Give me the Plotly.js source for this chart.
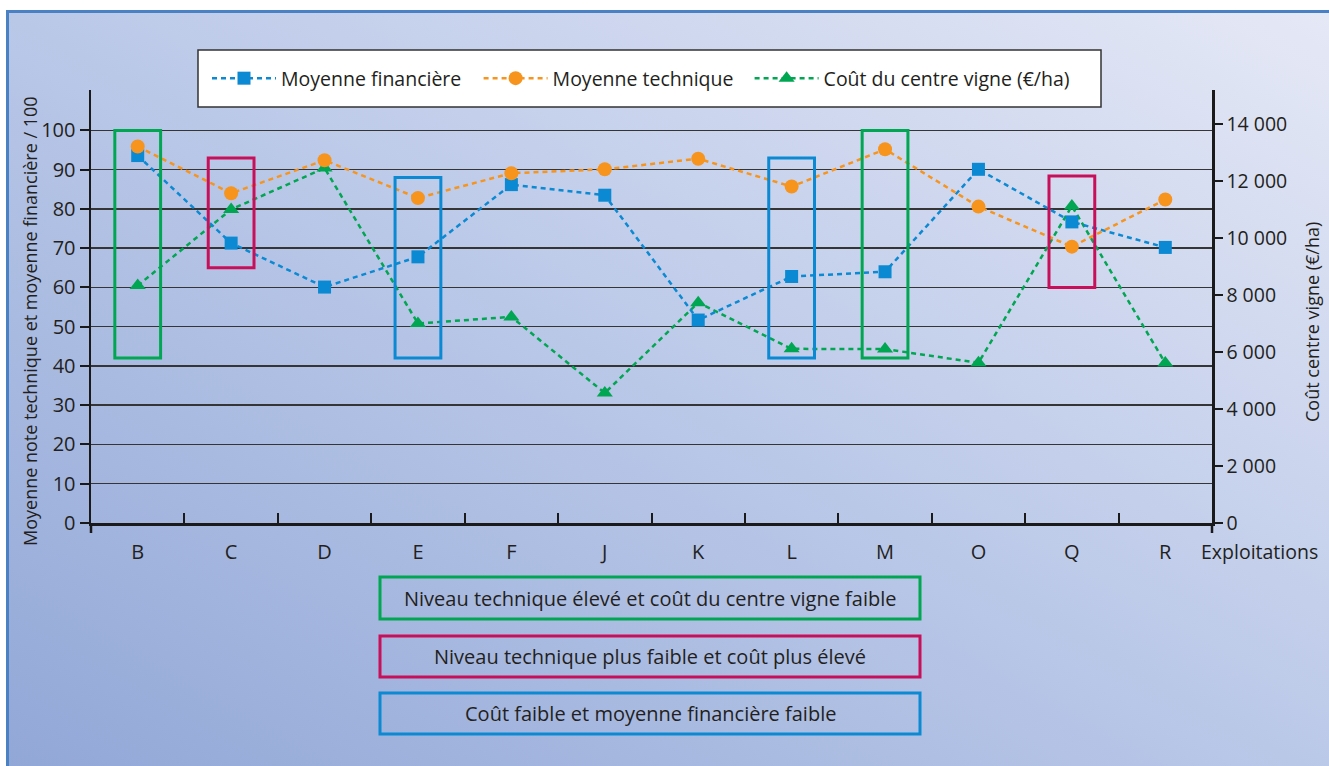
<!DOCTYPE html>
<html>
<head>
<meta charset="utf-8">
<script src="https://cdn.plot.ly/plotly-3.0.1.min.js"></script>
<style>
  html, body { margin: 0; padding: 0; background: #ffffff; width: 1329px; height: 766px; overflow: hidden; }
  #frame { position: absolute; left: 6px; top: 10px; width: 1340px; height: 780px;
    border-left: 3px solid #4a80c4; border-top: 3px solid #4a80c4;
    background: linear-gradient(to top right, #90a6d6 0%, #bac8e8 50%, #e6e9f6 100%); }
  #chart { position: absolute; left: 0; top: 0; width: 1329px; height: 766px; }
</style>
</head>
<body>
<div id="frame"></div>
<div id="chart"></div>
<script>
// ---- Data ----
const categories = ['B', 'C', 'D', 'E', 'F', 'J', 'K', 'L', 'M', 'O', 'Q', 'R'];
const moyenneFinanciere = [93.6, 71.3, 60.1, 67.8, 86.2, 83.5, 51.7, 62.8, 64.0, 90.1, 76.7, 70.2];
const moyenneTechnique  = [95.9, 84.0, 92.4, 82.8, 89.1, 90.1, 92.8, 85.7, 95.2, 80.6, 70.4, 82.4];
const coutCentreVigne   = [8330, 11000, 12450, 7000, 7230, 4560, 7730, 6110, 6100, 5620, 11120, 5610];

const seriesNames = ['Moyenne financière', 'Moyenne technique', 'Coût du centre vigne (€/ha)'];

const leftTickVals = [0, 10, 20, 30, 40, 50, 60, 70, 80, 90, 100];
const rightTickVals = [0, 2000, 4000, 6000, 8000, 10000, 12000, 14000];

// highlighted groups (category, top, bottom on the /100 scale, group)
const boxCats   = ['B', 'C', 'E', 'L', 'M', 'Q'];
const boxTop    = [100, 93, 88, 93, 100, 88.4];
const boxBottom = [42, 65, 42, 42, 42, 60];
const boxGroup  = [0, 1, 2, 2, 0, 1];

const groupLabels = [
  'Niveau technique élevé et coût du centre vigne faible',
  'Niveau technique plus faible et coût plus élevé',
  'Coût faible et moyenne financière faible'
];

// ---- Styling ----
const COL_BLUE = '#0b89d2';
const COL_ORANGE = '#f7941d';
const COL_GREEN = '#00a651';
const COL_CRIMSON = '#c8105a';
const groupColors = [COL_GREEN, COL_CRIMSON, COL_BLUE];
const FONT = 'Open Sans, Noto Sans, Liberation Sans, sans-serif';
const TXT = '#231f20';

// plot area in px
const W = 1329, H = 766;
const L = 91, R = 117, T = 90, B = 243;
const pw = W - L - R, ph = H - T - B;
const px2x = p => (p - L) / pw;
const px2y = p => (H - B - p) / ph;

const traces = [
  {
    name: seriesNames[2], x: categories, y: coutCentreVigne, xaxis: 'x', yaxis: 'y',
    type: 'scatter', mode: 'lines+markers', legend: 'legend3',
    line: { color: COL_GREEN, width: 2.5, dash: '5px,4px' },
    marker: { symbol: 'triangle-up', size: 14, color: COL_GREEN }
  },
  {
    name: seriesNames[0], x: categories, y: moyenneFinanciere, xaxis: 'x', yaxis: 'y2',
    type: 'scatter', mode: 'lines+markers', legend: 'legend',
    line: { color: COL_BLUE, width: 2.5, dash: '5px,4px' },
    marker: { symbol: 'square', size: 13, color: COL_BLUE }
  },
  {
    name: seriesNames[1], x: categories, y: moyenneTechnique, xaxis: 'x', yaxis: 'y2',
    type: 'scatter', mode: 'lines+markers', legend: 'legend2',
    line: { color: COL_ORANGE, width: 2.5, dash: '5px,4px' },
    marker: { symbol: 'circle', size: 14, color: COL_ORANGE }
  }
];

const shapes = [];
// legend frame
shapes.push({ type: 'rect', xref: 'paper', yref: 'paper', layer: 'below',
  x0: px2x(198), x1: px2x(1101), y0: px2y(107), y1: px2y(50),
  fillcolor: '#ffffff', line: { color: '#333333', width: 1.5 } });
// small extensions of the vertical axes below the category axis
[L, L + pw].forEach(p => {
  shapes.push({ type: 'line', xref: 'paper', yref: 'paper', layer: 'above',
    x0: px2x(p), x1: px2x(p), y0: px2y(523), y1: px2y(533),
    line: { color: '#1a1a1a', width: 2.5 } });
});
// highlight boxes
boxCats.forEach((c, i) => {
  const idx = categories.indexOf(c);
  shapes.push({ type: 'rect', xref: 'x', yref: 'y2', layer: 'above',
    x0: idx - 0.245, x1: idx + 0.245, y0: boxBottom[i], y1: boxTop[i],
    line: { color: groupColors[boxGroup[i]], width: 3 }, fillcolor: 'rgba(0,0,0,0)' });
});
// group key boxes
const keyTops = [577, 636, 693], keyBottoms = [619, 677, 734];
groupLabels.forEach((t, i) => {
  shapes.push({ type: 'rect', xref: 'paper', yref: 'paper', layer: 'above',
    x0: px2x(380), x1: px2x(920), y0: px2y(keyBottoms[i]), y1: px2y(keyTops[i]),
    line: { color: groupColors[i], width: 3 }, fillcolor: 'rgba(0,0,0,0)' });
});

const annotations = [];
groupLabels.forEach((t, i) => {
  annotations.push({ xref: 'paper', yref: 'paper', x: px2x(650), y: px2y((keyTops[i] + keyBottoms[i]) / 2),
    text: t, showarrow: false, xanchor: 'center', yanchor: 'middle',
    font: { family: FONT, size: 20, color: TXT } });
});
annotations.push({ xref: 'paper', yref: 'paper', x: px2x(30), y: px2y(321),
  text: 'Moyenne note technique et moyenne financière / 100', textangle: -90, showarrow: false,
  xanchor: 'center', yanchor: 'middle', font: { family: FONT, size: 18, color: TXT } });
annotations.push({ xref: 'paper', yref: 'paper', x: px2x(1312), y: px2y(322),
  text: 'Coût centre vigne (€/ha)', textangle: -90, showarrow: false,
  xanchor: 'center', yanchor: 'middle', font: { family: FONT, size: 18, color: TXT } });
annotations.push({ xref: 'paper', yref: 'paper', x: px2x(1259), y: px2y(551),
  text: 'Exploitations', showarrow: false, xanchor: 'center', yanchor: 'middle',
  font: { family: FONT, size: 19.5, color: TXT } });

const legendBase = (xpx) => ({
  orientation: 'h', x: px2x(xpx), xanchor: 'left', y: px2y(78.5), yanchor: 'middle',
  bgcolor: 'rgba(0,0,0,0)', borderwidth: 0, itemwidth: 64,
  font: { family: FONT, size: 19.5, color: TXT }
});

const layout = {
  width: W, height: H,
  margin: { l: L, r: R, t: T, b: B, pad: 0 },
  paper_bgcolor: 'rgba(0,0,0,0)', plot_bgcolor: 'rgba(0,0,0,0)',
  font: { family: FONT, color: TXT, size: 20 },
  separators: ', ',
  showlegend: true,
  legend: legendBase(207),
  legend2: legendBase(478.6),
  legend3: legendBase(749.6),
  xaxis: {
    type: 'category', range: [-0.5, 11.5], showgrid: false, zeroline: false,
    showline: true, linecolor: '#1a1a1a', linewidth: 3,
    ticks: 'inside', tickson: 'boundaries', ticklen: 10, tickwidth: 2, tickcolor: '#1a1a1a',
    ticklabelstandoff: 9, tickfont: { family: FONT, size: 20, color: TXT }, fixedrange: true
  },
  yaxis: {
    side: 'right', range: [0, 15190], showgrid: false, zeroline: false,
    showline: true, linecolor: '#1a1a1a', linewidth: 2.5,
    ticks: 'outside', ticklen: 8, tickwidth: 2, tickcolor: '#1a1a1a',
    tickvals: rightTickVals, separatethousands: true, tickformat: ',d',
    tickfont: { family: FONT, size: 19.5, color: TXT }, fixedrange: true
  },
  yaxis2: {
    overlaying: 'y', side: 'left', range: [0, 110.3],
    showgrid: true, gridcolor: '#353535', gridwidth: 1.5, zeroline: false,
    showline: true, linecolor: '#1a1a1a', linewidth: 2.5,
    ticks: 'outside', ticklen: 9, tickwidth: 2, tickcolor: '#1a1a1a',
    tickvals: leftTickVals, tickfont: { family: FONT, size: 20, color: TXT }, fixedrange: true
  },
  shapes: shapes,
  annotations: annotations
};

Plotly.newPlot('chart', traces, layout, { displayModeBar: false, staticPlot: true });
</script>
</body>
</html>
